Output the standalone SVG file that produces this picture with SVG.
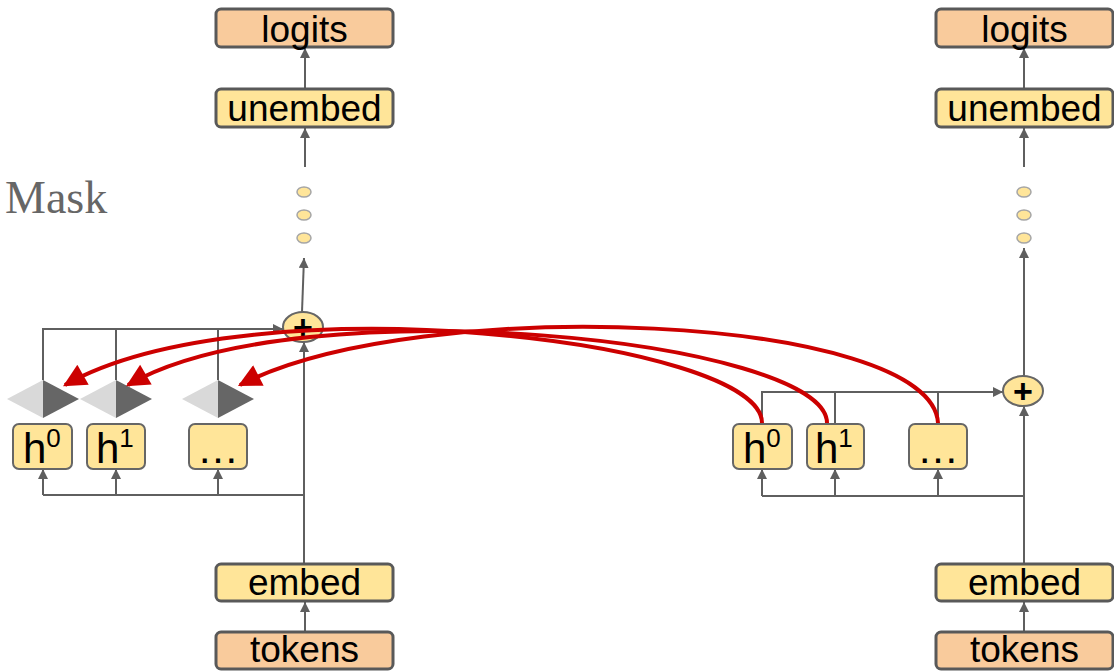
<svg xmlns="http://www.w3.org/2000/svg" width="1114" height="671" viewBox="0 0 1114 671">
  <defs>
    <marker id="arr" viewBox="0 0 10 10" refX="10" refY="5" markerWidth="10" markerHeight="10" markerUnits="userSpaceOnUse" orient="auto">
      <path d="M0,0 L10,5 L0,10 Z" fill="#5f5f5f"/>
    </marker>
    <marker id="redArr" viewBox="0 0 10 10" refX="9" refY="5" markerWidth="27" markerHeight="23" markerUnits="userSpaceOnUse" orient="auto">
      <path d="M0,0 L10,5 L0,10 Z" fill="#cc0000"/>
    </marker>
  </defs>
  <style>
    .io { fill: #f9cb9c; stroke: #595959; stroke-width: 3; }
    .layer { fill: #ffe599; stroke: #595959; stroke-width: 3; }
    .head { fill: #ffe599; stroke: #666666; stroke-width: 2; }
    .add { fill: #ffe599; stroke: #666666; stroke-width: 2; }
    .dot { fill: #ffe599; stroke: #a6a6a6; stroke-width: 1.5; }
    .lbl { font-family: "Liberation Sans", Arial, sans-serif; font-size: 37px; fill: #000; text-anchor: middle; }
    .hl { font-family: "Liberation Sans", Arial, sans-serif; font-size: 42px; fill: #000; }
    .plus { font-family: "Liberation Sans", Arial, sans-serif; font-size: 34px; font-weight: bold; fill: #000; text-anchor: middle; }
    .wire { fill: none; stroke: #5f5f5f; stroke-width: 2; }
    .red { fill: none; stroke: #cc0000; stroke-width: 4; }
    .lite { fill: #d9d9d9; }
    .dark { fill: #666666; }
  </style>

  <rect width="1114" height="671" fill="#ffffff"/>

  <text x="5" y="213" font-family="'Liberation Serif', 'Times New Roman', serif" font-size="46" fill="#666666">Mask</text>

  <!-- wiring -->
  <g id="connectors">
    <!-- left model -->
    <line class="wire" x1="305" y1="88" x2="305" y2="48" marker-end="url(#arr)"/>
    <line class="wire" x1="305" y1="167" x2="305" y2="128" marker-end="url(#arr)"/>
    <line class="wire" x1="302" y1="312" x2="304" y2="258" marker-end="url(#arr)"/>
    <line class="wire" x1="304" y1="563" x2="304" y2="342" marker-end="url(#arr)"/>
    <line class="wire" x1="305" y1="632" x2="305" y2="602" marker-end="url(#arr)"/>
    <polyline class="wire" points="43,380 43,329 283,329" marker-end="url(#arr)"/>
    <line class="wire" x1="116" y1="329" x2="116" y2="380"/>
    <line class="wire" x1="218" y1="329" x2="218" y2="380"/>
    <line class="wire" x1="43" y1="495" x2="304" y2="495"/>
    <line class="wire" x1="43" y1="495" x2="43" y2="469" marker-end="url(#arr)"/>
    <line class="wire" x1="116" y1="495" x2="116" y2="469" marker-end="url(#arr)"/>
    <line class="wire" x1="218" y1="495" x2="218" y2="469" marker-end="url(#arr)"/>

    <!-- right model -->
    <line class="wire" x1="1024" y1="88" x2="1024" y2="48" marker-end="url(#arr)"/>
    <line class="wire" x1="1024" y1="167" x2="1024" y2="128" marker-end="url(#arr)"/>
    <line class="wire" x1="1024" y1="376" x2="1024" y2="248" marker-end="url(#arr)"/>
    <line class="wire" x1="1024" y1="563" x2="1024" y2="406" marker-end="url(#arr)"/>
    <line class="wire" x1="1024" y1="632" x2="1024" y2="602" marker-end="url(#arr)"/>
    <polyline class="wire" points="762,424 762,392 1003,392" marker-end="url(#arr)"/>
    <line class="wire" x1="835" y1="392" x2="835" y2="424"/>
    <line class="wire" x1="938" y1="392" x2="938" y2="424"/>
    <line class="wire" x1="762" y1="496" x2="1024" y2="496"/>
    <line class="wire" x1="762" y1="496" x2="762" y2="469" marker-end="url(#arr)"/>
    <line class="wire" x1="835" y1="496" x2="835" y2="469" marker-end="url(#arr)"/>
    <line class="wire" x1="938" y1="496" x2="938" y2="469" marker-end="url(#arr)"/>
  </g>

  <!-- left model -->
  <g id="logits-a"><rect class="io" x="216" y="9" width="177" height="38" rx="5"/><text class="lbl" x="304.5" y="42">logits</text></g>
  <g id="unembed-a"><rect class="layer" x="216" y="89" width="177" height="38" rx="5"/><text class="lbl" x="304.5" y="121">unembed</text></g>
  <g id="dots-a">
    <ellipse class="dot" cx="304" cy="192" rx="7" ry="5"/>
    <ellipse class="dot" cx="304" cy="215" rx="7" ry="5"/>
    <ellipse class="dot" cx="304" cy="238" rx="7" ry="5"/>
  </g>
  <g id="add-a"><ellipse class="add" cx="303" cy="327" rx="20" ry="15"/><text class="plus" x="303" y="339">+</text></g>
  <g id="mask-0"><polygon class="lite" points="7,399 43,380 43,418"/><polygon class="dark" points="43,380 79,399 43,418"/></g>
  <g id="mask-1"><polygon class="lite" points="80,399 116,380 116,418"/><polygon class="dark" points="116,380 152,399 116,418"/></g>
  <g id="mask-n"><polygon class="lite" points="182,399 218,380 218,418"/><polygon class="dark" points="218,380 254,399 218,418"/></g>
  <g id="head-a0"><rect class="head" x="13" y="424" width="59" height="45" rx="6"/><text class="hl" x="23" y="463">h<tspan font-size="26" dy="-16">0</tspan></text></g>
  <g id="head-a1"><rect class="head" x="87" y="424" width="58" height="45" rx="6"/><text class="hl" x="96" y="463">h<tspan font-size="26" dy="-16">1</tspan></text></g>
  <g id="head-an"><rect class="head" x="189" y="424" width="58" height="45" rx="6"/><text class="hl" x="218" y="463" text-anchor="middle">…</text></g>
  <g id="embed-a"><rect class="layer" x="216" y="564" width="177" height="37" rx="5"/><text class="lbl" x="304.5" y="595">embed</text></g>
  <g id="tokens-a"><rect class="io" x="216" y="632" width="177" height="37" rx="5"/><text class="lbl" x="304.5" y="662">tokens</text></g>

  <!-- right model -->
  <g id="logits-b"><rect class="io" x="936" y="9" width="177" height="38" rx="5"/><text class="lbl" x="1024.5" y="42">logits</text></g>
  <g id="unembed-b"><rect class="layer" x="936" y="89" width="177" height="38" rx="5"/><text class="lbl" x="1024.5" y="121">unembed</text></g>
  <g id="dots-b">
    <ellipse class="dot" cx="1024" cy="192" rx="7" ry="5"/>
    <ellipse class="dot" cx="1024" cy="215" rx="7" ry="5"/>
    <ellipse class="dot" cx="1024" cy="238" rx="7" ry="5"/>
  </g>
  <g id="add-b"><ellipse class="add" cx="1023" cy="391" rx="20" ry="15"/><text class="plus" x="1023" y="403">+</text></g>
  <g id="head-b0"><rect class="head" x="733" y="424" width="59" height="45" rx="6"/><text class="hl" x="743" y="463">h<tspan font-size="26" dy="-16">0</tspan></text></g>
  <g id="head-b1"><rect class="head" x="807" y="424" width="57" height="45" rx="6"/><text class="hl" x="815" y="463">h<tspan font-size="26" dy="-16">1</tspan></text></g>
  <g id="head-bn"><rect class="head" x="909" y="424" width="58" height="45" rx="6"/><text class="hl" x="938" y="463" text-anchor="middle">…</text></g>
  <g id="embed-b"><rect class="layer" x="936" y="564" width="177" height="37" rx="5"/><text class="lbl" x="1024.5" y="595">embed</text></g>
  <g id="tokens-b"><rect class="io" x="936" y="632" width="177" height="37" rx="5"/><text class="lbl" x="1024.5" y="662">tokens</text></g>

  <!-- patched head outputs -->
  <g id="patches">
    <path class="red" d="M762,423 C762,340 250,280 65,385" marker-end="url(#redArr)"/>
    <path class="red" d="M827,423 C827,340 300,285 128,385" marker-end="url(#redArr)"/>
    <path class="red" d="M938,423 C932,315 420,292 240,385" marker-end="url(#redArr)"/>
  </g>
</svg>
